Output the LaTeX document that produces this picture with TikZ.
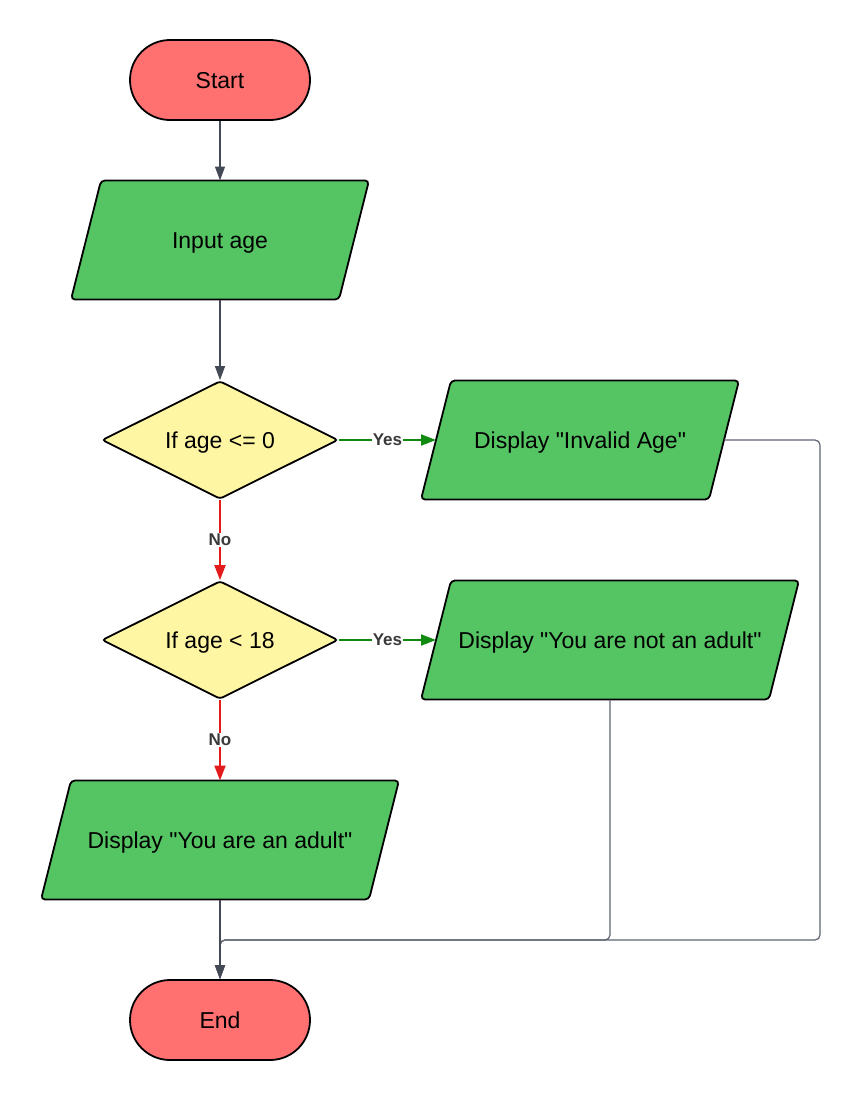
\documentclass[tikz,border=0pt]{standalone}
\usepackage{fontspec}
\setmainfont{Liberation Sans}[Ligatures=TeXOff]
\usetikzlibrary{shapes.geometric,arrows.meta,backgrounds}
\definecolor{termfill}{HTML}{FF7070}
\definecolor{iofill}{HTML}{55C462}
\definecolor{decfill}{HTML}{FFF6A3}
\definecolor{conngray}{HTML}{434A56}
\definecolor{mergegray}{HTML}{5E6470}
\definecolor{yesgreen}{HTML}{128A12}
\definecolor{nored}{HTML}{E31B1B}
\definecolor{labgray}{HTML}{3A3A3A}
\newcommand\mainfontsize{\fontsize{23}{27}\selectfont}
\newcommand\dq{\char34\relax}
\newcommand\paranode[5]{%
  \node[paratext, minimum width=2*#4] (#1) at (#2,#3) {#5};
  \begin{scope}[on background layer]
    \draw[parashape] ([xshift=15pt]#1.north west) -- ([xshift=15pt]#1.north east)
      -- ([xshift=-15pt]#1.south east) -- ([xshift=-15pt]#1.south west) -- cycle;
  \end{scope}}
\tikzset{
  textbox/.style={font=\mainfontsize, text height=16.5pt, text depth=0pt},
  terminal/.style={textbox, draw=black, line width=1.8pt, fill=termfill, rounded corners=40pt,
    minimum width=180pt, minimum height=80pt, inner sep=0pt},
  paratext/.style={textbox, minimum height=119pt, inner sep=0pt, outer sep=0pt},
  parashape/.style={draw=black, line width=1.8pt, fill=iofill, rounded corners=4pt},
  decision/.style={textbox, diamond, draw=black, line width=1.8pt, fill=decfill, aspect=2,
    minimum width=236pt, minimum height=118pt, inner sep=0pt, rounded corners=3pt},
  conn/.style={draw=conngray, line width=1.3pt, -{Triangle[length=14pt,width=10pt]}},
  merge/.style={draw=mergegray, line width=1.2pt, rounded corners=5pt, -{Triangle[length=14pt,width=10pt]}},
  yesconn/.style={draw=yesgreen, line width=2pt, -{Triangle[length=15pt,width=11pt]}},
  noconn/.style={draw=nored, line width=2pt, -{Triangle[length=15pt,width=11pt]}},
  edgelab/.style={fill=white, inner sep=1pt, text=labgray, font=\fontsize{17}{19}\selectfont\bfseries}
}
\begin{document}
\begin{tikzpicture}[x=1pt,y=-1pt]
\useasboundingbox (0,0) rectangle (861,1100);
\node[terminal] (start) at (220,80) {Start};
\paranode{input}{220}{240}{134}{Input age}
\node[decision] (d1) at (220,440) {If age <= 0};
\paranode{invalid}{580}{440}{144}{Display \dq Invalid Age\dq}
\node[decision] (d2) at (220,640) {If age < 18};
\paranode{notadult}{610}{640}{174}{Display \dq You are not an adult\dq}
\paranode{adult}{220}{840}{164}{Display \dq You are an adult\dq}
\node[terminal] (end) at (220,1020) {End};
\coordinate (rc) at (820,940);
\coordinate (mc) at (610,940);

\draw[conn] (start.south) -- (input.north);
\draw[conn] (input.south) -- (d1.north);
\draw[yesconn] (d1.east) -- node[edgelab]{Yes} (invalid.west);
\draw[noconn] (d1.south) -- node[edgelab]{No} (d2.north);
\draw[yesconn] (d2.east) -- node[edgelab]{Yes} (notadult.west);
\draw[noconn] (d2.south) -- node[edgelab]{No} (adult.north);
\draw[merge] (invalid.east) -| (rc) -| (end.north);
\draw[merge] (notadult.south) -- (mc) -| (end.north);
\draw[conn] (adult.south) -- (end.north);
\end{tikzpicture}
\end{document}
